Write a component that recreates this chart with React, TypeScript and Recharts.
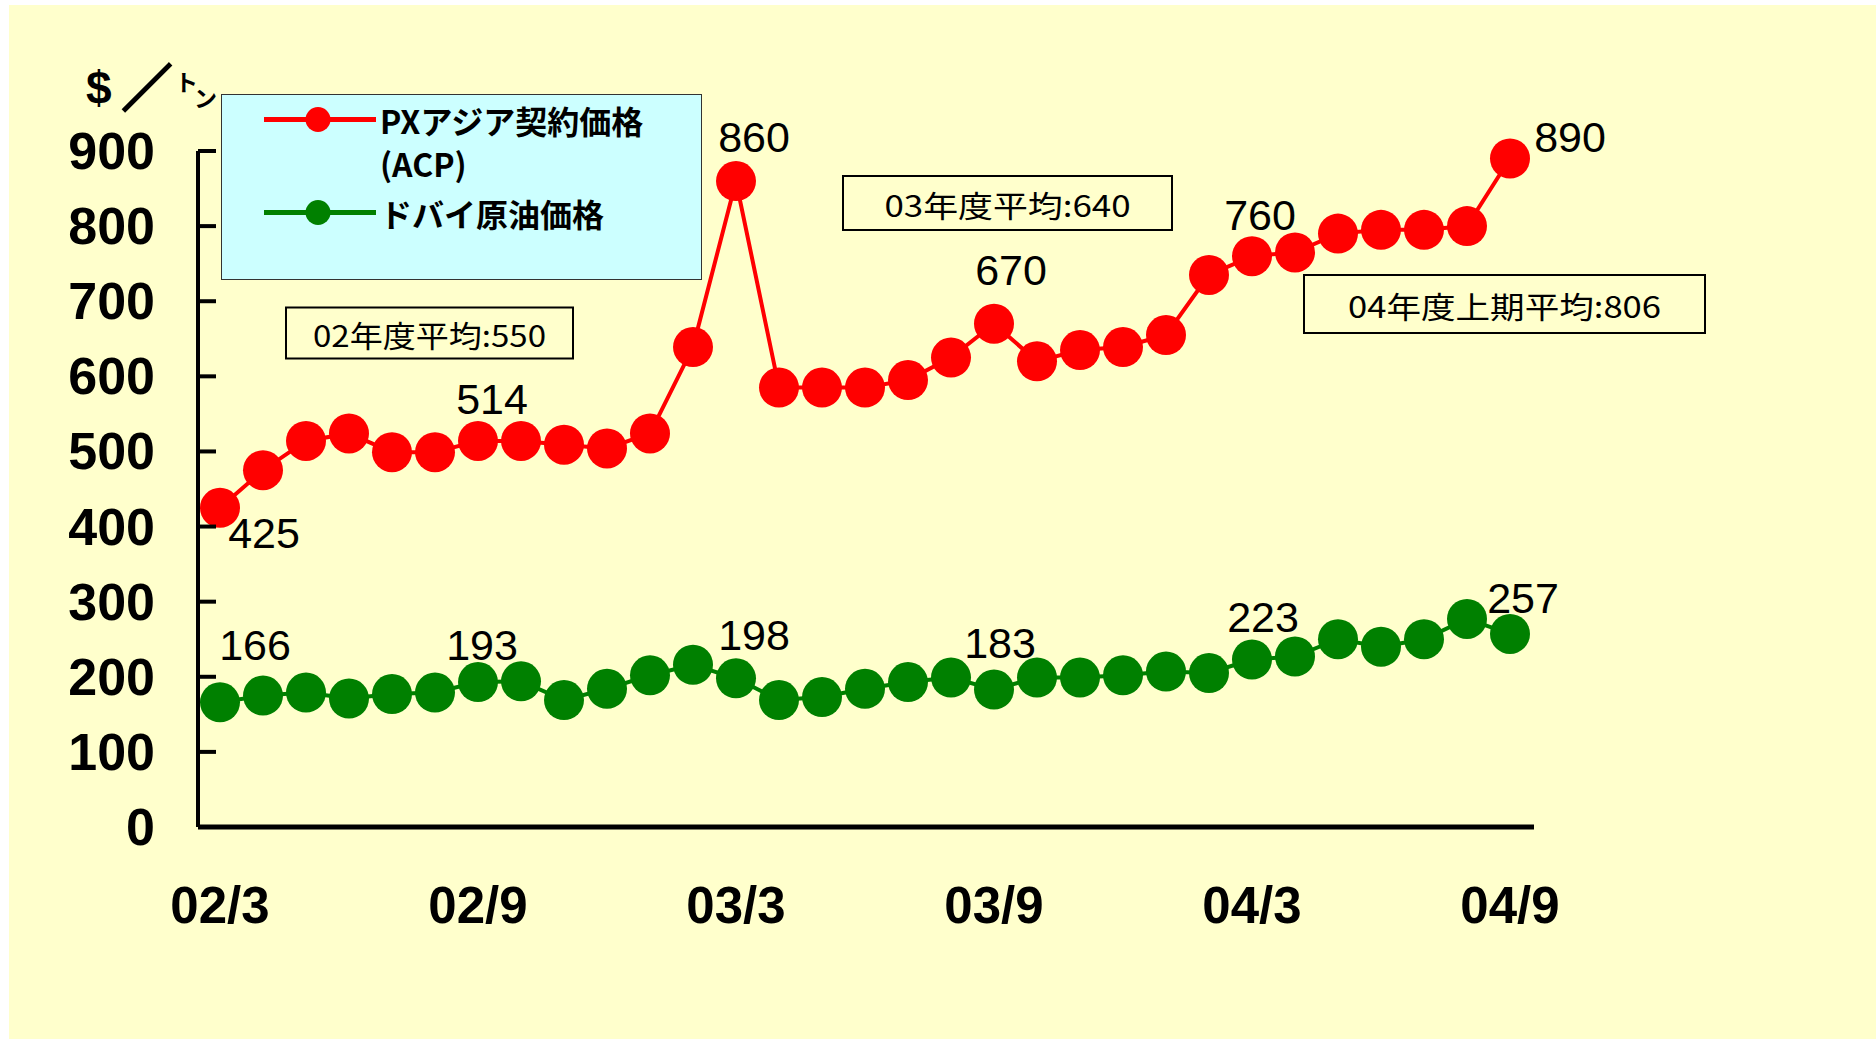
import React from 'react';
import { LineChart, Line, XAxis, YAxis, Legend, LabelList, Customized } from 'recharts';

// Monthly prices, Mar 2002 - Sep 2004 ($/ton)
const months = [
  '02/3', '02/4', '02/5', '02/6', '02/7', '02/8', '02/9', '02/10', '02/11', '02/12',
  '03/1', '03/2', '03/3', '03/4', '03/5', '03/6', '03/7', '03/8', '03/9', '03/10', '03/11', '03/12',
  '04/1', '04/2', '04/3', '04/4', '04/5', '04/6', '04/7', '04/8', '04/9',
];

const pxPrice = [
  425, 475, 514, 524, 499, 499, 514, 514, 509, 504,
  524, 639, 860, 585, 585, 585, 595, 625, 670, 620, 635, 639,
  655, 735, 760, 765, 790, 795, 795, 800, 890,
];

const dubaiPrice = [
  166, 175, 179, 171, 177, 179, 193, 194, 169, 184,
  202, 216, 198, 169, 173, 184, 193, 199, 183, 199, 199, 202,
  207, 205, 223, 227, 250, 240, 250, 277, 257,
];

const yTicks = [0, 100, 200, 300, 400, 500, 600, 700, 800, 900];

const seriesNames = ['PXアジア契約価格\n(ACP)', 'ドバイ原油価格'];
const seriesColors = ['#FF0000', '#008000'];

const averageNotes = ['02年度平均:550', '03年度平均:640', '04年度上期平均:806'];

const data = months.map((month, i) => ({ month, px: pxPrice[i], dubai: dubaiPrice[i] }));

const SANS = '"Liberation Sans", Arial, sans-serif';
const JP = '"Noto Sans CJK JP", "Liberation Sans", sans-serif';

// label offsets from the dot, keyed by point index
const pxLabelOffsets: Record<number, [number, number]> = {
  0: [44, 25],
  6: [14, -42],
  12: [18, -44],
  18: [17, -54],
  24: [8, -41],
  30: [60, -22],
};
const dubaiLabelOffsets: Record<number, [number, number]> = {
  0: [35, -57],
  6: [4, -37],
  12: [18, -43],
  18: [6, -47],
  24: [11, -43],
  30: [13, -36],
};

const makeValueLabel = (offsets: Record<number, [number, number]>) => (props: any) => {
  const { x, y, value, index } = props;
  const off = offsets[index];
  if (!off) return null;
  return (
    <text
      x={x + off[0]}
      y={y + off[1]}
      textAnchor="middle"
      dominantBaseline="central"
      fontSize={43}
      fontFamily={SANS}
      fill="#000"
    >
      {value}
    </text>
  );
};

const YTick = (props: any) => {
  const { x, y, payload } = props;
  return (
    <g>
      <line x1={x} y1={y} x2={x + 18} y2={y} stroke="#000" strokeWidth={4} />
      <text
        x={x - 43}
        y={y}
        textAnchor="end"
        dominantBaseline="central"
        fontSize={52}
        fontWeight="bold"
        fontFamily={SANS}
        fill="#000"
      >
        {payload.value}
      </text>
    </g>
  );
};

const XTick = (props: any) => {
  const { x, y, payload } = props;
  return (
    <text
      x={x}
      y={y + 78}
      textAnchor="middle"
      dominantBaseline="central"
      fontSize={51}
      fontWeight="bold"
      fontFamily={SANS}
      fill="#000"
    >
      {payload.value}
    </text>
  );
};

const LegendBox = (props: any) => {
  const { payload = [] } = props;
  const rows = [25.5, 118.5];
  return (
    <svg width={481} height={186} style={{ display: 'block' }}>
      <rect x={0.5} y={0.5} width={480} height={185} fill="#CCFFFF" stroke="#333" strokeWidth={1} />
      {payload.map((entry: any, i: number) => {
        const cy = rows[i];
        const lines = String(entry.value).split('\n');
        return (
          <g key={entry.value}>
            <line x1={43} y1={cy} x2={155} y2={cy} stroke={entry.color} strokeWidth={5} />
            <circle cx={97} cy={cy} r={12.5} fill={entry.color} />
            {lines.map((t, j) => (
              <text
                key={t}
                x={159}
                y={cy + j * 43}
                dominantBaseline="central"
                fontSize={32}
                fontWeight="bold"
                fontFamily={JP}
                fill="#000"
              >
                {t}
              </text>
            ))}
          </g>
        );
      })}
    </svg>
  );
};

// unit label and the average boxes
const Notes = () => {
  const boxes = [
    { x: 277, y: 302.5, w: 287, h: 51, tw: 233 },
    { x: 834, y: 171, w: 329, h: 54, tw: 246 },
    { x: 1295, y: 270, w: 401, h: 58, tw: 313 },
  ];
  return (
    <g>
      <text x={77} y={99} fontSize={46} fontWeight="bold" fontFamily={SANS} fill="#000">$</text>
      <text
        x={113}
        y={101}
        fontSize={50}
        fontWeight="bold"
        fontFamily={JP}
        fill="#000"
        stroke="#000"
        strokeWidth={2.5}
      >
        ／
      </text>
      <text x={166} y={86} fontSize={23} fontWeight="bold" fontFamily={JP} fill="#000">ト</text>
      <text x={185} y={102} fontSize={23} fontWeight="bold" fontFamily={JP} fill="#000">ン</text>
      {averageNotes.map((note, i) => {
        const b = boxes[i];
        return (
          <g key={note}>
            <rect x={b.x} y={b.y} width={b.w} height={b.h} fill="none" stroke="#000" strokeWidth={2} />
            <text
              x={b.x + b.w / 2}
              y={b.y + b.h / 2 + 1}
              textAnchor="middle"
              dominantBaseline="central"
              fontSize={30}
              fontFamily={JP}
              fill="#000"
              textLength={b.tw}
              lengthAdjust="spacingAndGlyphs"
            >
              {note}
            </text>
          </g>
        );
      })}
    </g>
  );
};

export default function App() {
  return (
    <div
      style={{
        position: 'absolute',
        left: 9,
        top: 5,
        width: 1867,
        height: 1034,
        background: '#FFFFCC',
      }}
    >
      <LineChart
        width={1867}
        height={1034}
        data={data}
        margin={{ top: 146, right: 342, bottom: 112, left: 0 }}
      >
        <XAxis
          dataKey="month"
          interval={5}
          tick={<XTick />}
          tickLine={false}
          tickSize={0}
          tickMargin={0}
          axisLine={{ stroke: '#000', strokeWidth: 5 }}
          padding={{ left: 22, right: 24 }}
          height={100}
        />
        <YAxis
          domain={[0, 900]}
          ticks={yTicks}
          width={189}
          tick={<YTick />}
          tickLine={false}
          tickSize={0}
          tickMargin={0}
          axisLine={{ stroke: '#000', strokeWidth: 4 }}
        />
        <Legend
          layout="horizontal"
          verticalAlign="middle"
          align="center"
          content={<LegendBox />}
          wrapperStyle={{ left: 212, top: 89, width: 481, height: 186 }}
        />
        <Line
          dataKey="px"
          name={seriesNames[0]}
          stroke={seriesColors[0]}
          strokeWidth={4}
          dot={{ r: 20, fill: seriesColors[0], stroke: 'none' }}
          activeDot={false}
          isAnimationActive={false}
        >
          <LabelList dataKey="px" content={makeValueLabel(pxLabelOffsets)} />
        </Line>
        <Line
          dataKey="dubai"
          name={seriesNames[1]}
          stroke={seriesColors[1]}
          strokeWidth={4}
          dot={{ r: 20, fill: seriesColors[1], stroke: 'none' }}
          activeDot={false}
          isAnimationActive={false}
        >
          <LabelList dataKey="dubai" content={makeValueLabel(dubaiLabelOffsets)} />
        </Line>
        <Customized component={Notes} />
      </LineChart>
    </div>
  );
}
